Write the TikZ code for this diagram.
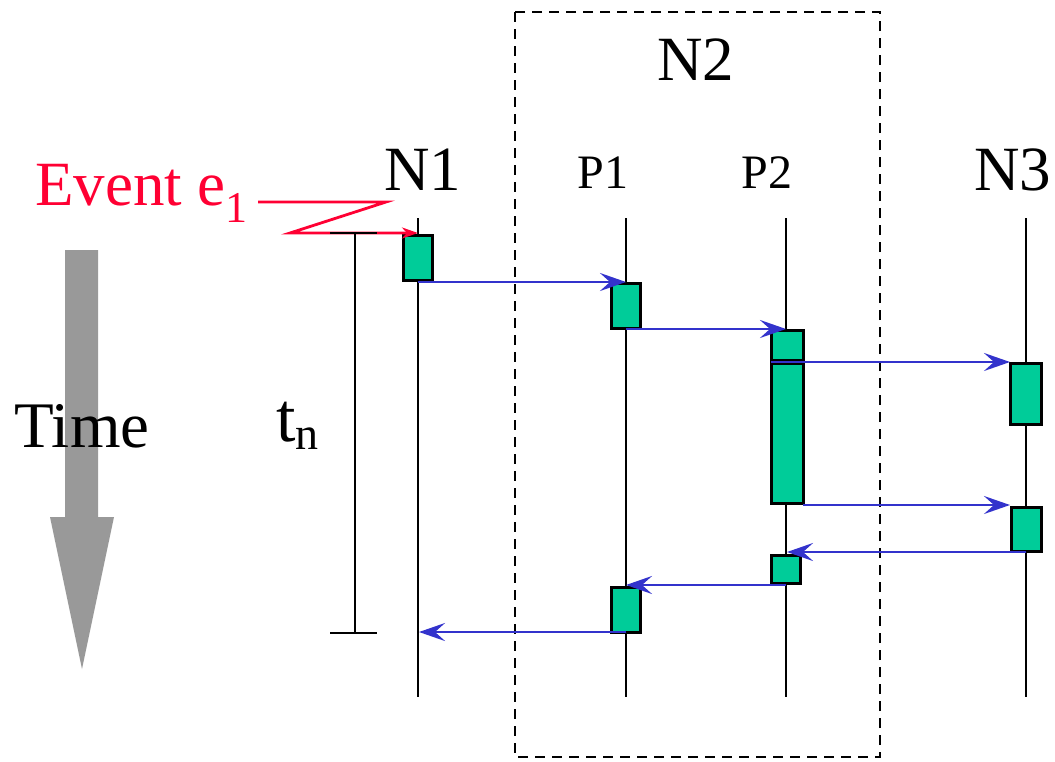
\documentclass[tikz,border=0pt]{standalone}
\usepackage{fontspec}
\setmainfont{Liberation Serif}
\usetikzlibrary{arrows.meta}
\definecolor{boxgreen}{RGB}{0,204,153}
\definecolor{msgblue}{RGB}{51,51,204}
\definecolor{evred}{RGB}{255,0,51}
\definecolor{timegray}{RGB}{153,153,153}
\tikzset{
  lifeline/.style={draw=black, line width=2.6pt},
  actbox/.style={draw=black, fill=boxgreen, line width=3pt, inner sep=0pt, rectangle},
  msg/.style={draw=msgblue, line width=2.6pt, -{Stealth[length=26pt,width=18pt,inset=10pt]}},
  bigtext/.style={font=\fontsize{63}{63}\selectfont, inner sep=0pt, anchor=base},
  midtext/.style={font=\fontsize{48}{48}\selectfont, inner sep=0pt, anchor=base},
}
\begin{document}
\begin{tikzpicture}[x=1pt,y=-1pt]
\useasboundingbox (0,0) rectangle (1055,761);
% dashed N2 frame
\draw[black, line width=2.4pt, dash pattern=on 10pt off 7pt] (515,12) rectangle (880,757);
\node[bigtext] (n2) at (696,80) {N2};
% headings
\node[bigtext] (n1) at (423,190) {N1};
\node[midtext] (p1) at (603,188) {P1};
\node[midtext] (p2) at (767,188) {P2};
\node[bigtext] (n3) at (1013,190) {N3};
% lifelines
\coordinate (l1t) at (418,218); \coordinate (l1b) at (418,697);
\coordinate (l2t) at (626,218); \coordinate (l2b) at (626,697);
\coordinate (l3t) at (786,218); \coordinate (l3b) at (786,697);
\coordinate (l4t) at (1026,218); \coordinate (l4b) at (1026,697);
\draw[lifeline] (l1t) -- (l1b);
\draw[lifeline] (l2t) -- (l2b);
\draw[lifeline] (l3t) -- (l3b);
\draw[lifeline] (l4t) -- (l4b);
% activation boxes
\node[actbox, minimum width=29pt, minimum height=45pt] (b1) at (417.5,257.5) {};
\node[actbox, minimum width=29pt, minimum height=45pt] (b2) at (625.5,305.5) {};
\node[actbox, minimum width=32pt, minimum height=30pt] (b3) at (787,345) {};
\node[actbox, minimum width=32pt, minimum height=140pt] (b4) at (787,433) {};
\node[actbox, minimum width=31pt, minimum height=61pt] (b5) at (1025.5,393.5) {};
\node[actbox, minimum width=30pt, minimum height=44pt] (b6) at (1026,529) {};
\node[actbox, minimum width=29pt, minimum height=28pt] (b7) at (785.5,569) {};
\node[actbox, minimum width=29pt, minimum height=45pt] (b8) at (625.5,609.5) {};
% messages
\coordinate (m1s) at (418,282); \coordinate (m1e) at (626,282);
\coordinate (m2s) at (626,329); \coordinate (m2e) at (786,329);
\coordinate (m3s) at (771,362); \coordinate (m3e) at (1010,362);
\coordinate (m4s) at (803,505); \coordinate (m4e) at (1010,505);
\coordinate (m5s) at (1026,552); \coordinate (m5e) at (787,552);
\coordinate (m6s) at (786,585); \coordinate (m6e) at (626,585);
\coordinate (m7s) at (626,632); \coordinate (m7e) at (419,632);
\draw[msg] (m1s) -- (m1e);
\draw[msg] (m2s) -- (m2e);
\draw[msg] (m3s) -- (m3e);
\draw[msg] (m4s) -- (m4e);
\draw[msg] (m5s) -- (m5e);
\draw[msg] (m6s) -- (m6e);
\draw[msg] (m7s) -- (m7e);
% event
\node[font=\fontsize{63}{63}\selectfont, text=evred, inner sep=0pt, anchor=base west] (ev) at (35,205)
  {Event e\raisebox{-0.27em}{\fontsize{44}{44}\selectfont 1}};
\coordinate (z1) at (258,202); \coordinate (z2) at (386,202);
\coordinate (z3) at (290,233); \coordinate (z4) at (418,233);
\draw[evred, line width=2.8pt, -{Stealth[length=16pt,width=11pt,inset=5pt]}] (z1) -- (z2) -- (z3) -- (z4);
% t_n interval
\coordinate (tt1) at (330,233); \coordinate (tt2) at (377,233);
\coordinate (tb1) at (330,633); \coordinate (tb2) at (377,633);
\coordinate (tv1) at (355,233); \coordinate (tv2) at (355,633);
\draw[black, line width=2.6pt] (tt1) -- (tt2);
\draw[black, line width=2.6pt] (tb1) -- (tb2);
\draw[black, line width=2.6pt] (tv1) -- (tv2);
\node[font=\fontsize{70}{70}\selectfont, inner sep=0pt, anchor=base west] (tn) at (276,441)
  {t\raisebox{-0.12em}{\fontsize{46}{46}\selectfont n}};
% time arrow
\fill[timegray] (65,250) -- (98,250) -- (98,517) -- (114,517) -- (82,669) -- (50,517) -- (65,517) -- cycle;
\node[font=\fontsize{65}{65}\selectfont, inner sep=0pt, anchor=base] (time) at (82,447) {Time};
\end{tikzpicture}
\end{document}
